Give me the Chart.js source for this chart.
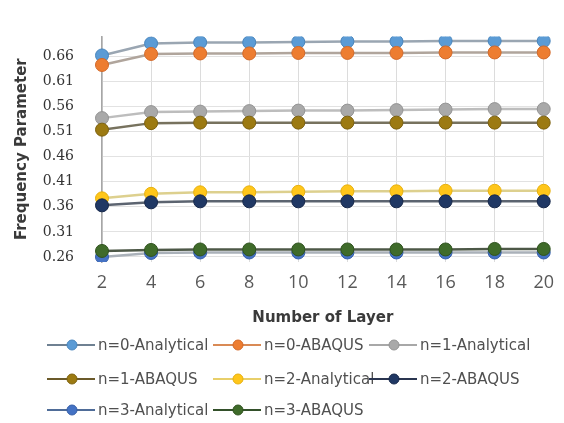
<!DOCTYPE html>
<html>
<head>
<meta charset="utf-8">
<script src="https://cdn.jsdelivr.net/npm/chart.js@4.4.1/dist/chart.umd.min.js"></script>
<style>
  html, body { margin: 0; padding: 0; background: #ffffff; }
  #wrap { width: 564px; height: 423px; }
</style>
</head>
<body>
<div id="wrap"><canvas id="chart" width="564" height="423"></canvas></div>
<script>
// Number of layers on the horizontal axis
const layers = ['2', '4', '6', '8', '10', '12', '14', '16', '18', '20'];

// Tick values shown on the frequency axis
const yTickValues = [0.26, 0.31, 0.36, 0.41, 0.46, 0.51, 0.56, 0.61, 0.66];

// Series names
const seriesNames = [
  'n=0-Analytical', 'n=0-ABAQUS', 'n=1-Analytical',
  'n=1-ABAQUS', 'n=2-Analytical', 'n=2-ABAQUS',
  'n=3-Analytical', 'n=3-ABAQUS'
];

// Frequency parameter per layer count
const n0Analytical = [0.662, 0.686, 0.688, 0.688, 0.689, 0.690, 0.690, 0.691, 0.691, 0.691];
const n0Abaqus     = [0.643, 0.665, 0.666, 0.666, 0.667, 0.667, 0.667, 0.668, 0.668, 0.668];
const n1Analytical = [0.537, 0.549, 0.550, 0.551, 0.552, 0.552, 0.553, 0.554, 0.555, 0.555];
const n1Abaqus     = [0.514, 0.527, 0.528, 0.528, 0.528, 0.528, 0.528, 0.528, 0.528, 0.528];
const n2Analytical = [0.377, 0.386, 0.389, 0.389, 0.390, 0.391, 0.391, 0.392, 0.392, 0.392];
const n2Abaqus     = [0.363, 0.369, 0.371, 0.371, 0.371, 0.371, 0.371, 0.371, 0.371, 0.371];
const n3Analytical = [0.260, 0.268, 0.269, 0.269, 0.269, 0.269, 0.269, 0.269, 0.269, 0.269];
const n3Abaqus     = [0.272, 0.274, 0.275, 0.275, 0.275, 0.275, 0.275, 0.275, 0.276, 0.276];

const seriesValues = [n0Analytical, n0Abaqus, n1Analytical, n1Abaqus,
                      n2Analytical, n2Abaqus, n3Analytical, n3Abaqus];

// Styling: marker fill, marker edge, plot line, legend line
const markerFill   = ['#5b9bd5', '#ed7d31', '#a9a9a9', '#9c7a12', '#ffc61a', '#203864', '#4472c4', '#3f6b2a'];
const markerEdge   = ['#4a86bd', '#d2692a', '#949494', '#7d6210', '#e6b010', '#17284a', '#365fa8', '#30531f'];
const plotLine     = ['#9aa6b2', '#b0a59c', '#bdbdbd', '#77725e', '#ddd08e', '#5c6470', '#aab1b9', '#4d5847'];
const legendLine   = ['#6f8192', '#d98a55', '#a8a8a8', '#6b5a2a', '#e8cf6a', '#2a3550', '#4f6c98', '#33502a'];

const datasets = seriesNames.map((name, i) => ({
  label: name,
  data: seriesValues[i],
  borderColor: plotLine[i],
  borderWidth: 2.5,
  pointRadius: 6.5,
  pointHoverRadius: 6.5,
  pointBackgroundColor: markerFill[i],
  pointBorderColor: markerEdge[i],
  pointBorderWidth: 1,
  legendLineColor: legendLine[i],
  tension: 0,
  fill: false,
  order: seriesNames.length - i
}));

// Legend laid out in a three-column grid under the axis title
const gridLegend = {
  id: 'gridLegend',
  afterDraw(chart, args, opts) {
    const ctx = chart.ctx;
    ctx.save();
    ctx.font = opts.font;
    ctx.textBaseline = 'middle';
    ctx.textAlign = 'left';
    chart.data.datasets.forEach((ds, i) => {
      const cx = opts.columns[i % 3];
      const cy = opts.rows[Math.floor(i / 3)];
      ctx.strokeStyle = ds.legendLineColor;
      ctx.lineWidth = 2;
      ctx.beginPath();
      ctx.moveTo(cx - 25, cy);
      ctx.lineTo(cx + 23, cy);
      ctx.stroke();
      ctx.beginPath();
      ctx.arc(cx, cy, 5, 0, Math.PI * 2);
      ctx.fillStyle = ds.pointBackgroundColor;
      ctx.fill();
      ctx.lineWidth = 1;
      ctx.strokeStyle = ds.pointBorderColor;
      ctx.stroke();
      ctx.fillStyle = opts.color;
      ctx.fillText(ds.label, cx + 26, cy + 1);
    });
    ctx.restore();
  }
};

new Chart(document.getElementById('chart'), {
  type: 'line',
  data: { labels: layers, datasets },
  options: {
    responsive: false,
    animation: false,
    devicePixelRatio: 1,
    layout: { padding: { left: 0, right: 16, top: 12, bottom: 90 } },
    plugins: {
      legend: { display: false },
      tooltip: { enabled: false },
      gridLegend: {
        font: '15px "DejaVu Sans"',
        color: '#505050',
        columns: [72, 238, 394],
        rows: [345, 379, 410]
      }
    },
    scales: {
      x: {
        type: 'category',
        offset: false,
        afterFit(scale) { scale.height = 71; },
        grid: { color: '#dcdcdc', lineWidth: 1, drawTicks: false },
        border: { display: false },
        ticks: {
          padding: 10,
          color: '#595959',
          font: { family: 'Open Sans', size: 18 },
          maxRotation: 0,
          autoSkip: false
        },
        title: {
          display: true,
          text: 'Number of Layer',
          color: '#3a3a3a',
          font: { family: 'DejaVu Sans', size: 15, weight: 'bold' },
          padding: { top: 0, bottom: 6 }
        }
      },
      y: {
        min: 0.25,
        max: 0.70,
        afterFit(scale) { scale.width = 102; },
        afterBuildTicks(scale) {
          scale.ticks = yTickValues.map(v => ({ value: v }));
        },
        grid: { color: '#e2e2e2', lineWidth: 1, drawTicks: false },
        border: { display: true, color: '#a6a6a6', width: 1.5 },
        ticks: {
          padding: 28,
          color: '#333333',
          font: { family: 'DejaVu Serif', size: 14 },
          callback: v => Number(v).toFixed(2)
        },
        title: {
          display: true,
          text: 'Frequency Parameter',
          color: '#3a3a3a',
          font: { family: 'DejaVu Sans', size: 15, weight: 'bold' },
          padding: { top: 13, bottom: 0 }
        }
      }
    }
  },
  plugins: [gridLegend]
});
</script>
</body>
</html>
